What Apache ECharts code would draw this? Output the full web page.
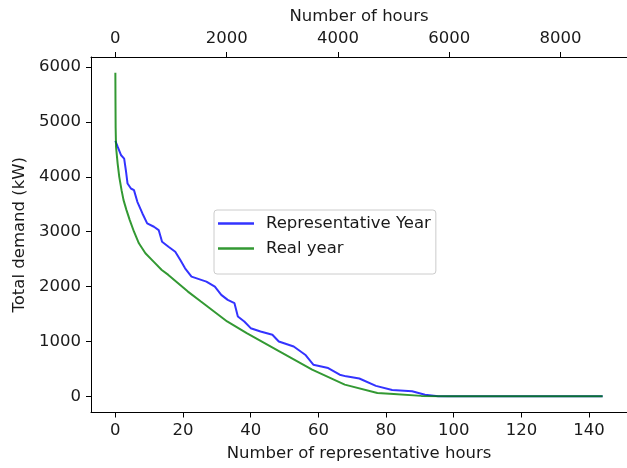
<!DOCTYPE html>
<html>
<head>
<meta charset="utf-8">
<script src="https://cdn.jsdelivr.net/npm/echarts@6/dist/echarts.min.js"></script>
<style>
  html, body { margin: 0; padding: 0; background: #fff; }
  #chart { width: 627px; height: 468px; }
</style>
</head>
<body>
<div id="chart"></div>
<script>
// representative year: [representative hour, demand kW]
var repHours = [0, 0.7, 1.7, 2.6, 3.1, 3.6, 4.6, 5.5, 6.5, 8, 9.4, 11.4, 12.8, 13.8, 15.7, 17.7, 19.2, 20.6,
  22.5, 26.9, 29.4, 31.3, 33.2, 35.2, 36.2, 38.1, 40, 42.9, 46.4, 48.3, 52.7, 56.1, 58.5, 62.9, 66.3,
  68.2, 72.1, 77, 81.8, 87.7, 91.5, 95.4, 144]
var repDemand = [4655, 4545, 4394, 4333, 4121, 3879, 3788, 3758, 3545, 3333, 3152, 3091, 3030, 2818, 2727, 2636, 2485, 2333,
  2182, 2091, 2000, 1849, 1758, 1697, 1455, 1364, 1242, 1182, 1121, 1000, 909, 758, 576, 515, 394,
  364, 325, 190, 115, 91, 30, 0, 0]

// real year: [hour, demand kW]
var realHours = [0, 2, 5, 12, 41, 70, 111, 147, 200, 259, 335, 423, 540, 687, 834, 952, 1304, 1538,
  2009, 2361, 2948, 3537, 4123, 4710, 5004, 5500, 6000, 8759]
var realDemand = [5900, 5400, 4900, 4545, 4242, 4000, 3758, 3576, 3394, 3212, 3000, 2789, 2607, 2455, 2303, 2213, 1909, 1727,
  1364, 1153, 818, 485, 213, 62, 44, 8, 0, 0]

var repTicks = [0, 20, 40, 60, 80, 100, 120, 140]
var hourTicks = [0, 2000, 4000, 6000, 8000]
var demandTicks = [0, 1000, 2000, 3000, 4000, 5000, 6000]

var font = 'DejaVu Sans'
var txt = '#1a1a1a'
var fs = 16.5

function zip(a, b) {
  return a.map(function (x, i) { return [x, b[i]] })
}

var chart = echarts.init(document.getElementById('chart'))

// shared look for the spines / ticks
function axisBase(ticks) {
  return {
    type: 'value',
    splitLine: { show: false },
    axisLine: { show: true, onZero: false, lineStyle: { color: '#000', width: 1 } },
    axisTick: { show: true, length: 5, customValues: ticks, lineStyle: { color: '#000' } },
    axisLabel: {
      customValues: ticks, color: txt, fontFamily: font, fontSize: fs, margin: 10,
      formatter: function (v) { return String(v) }
    },
    nameTextStyle: { color: txt, fontFamily: font, fontSize: fs },
    nameLocation: 'middle'
  }
}

var xBottom = axisBase(repTicks)
xBottom.position = 'bottom'
xBottom.min = -7.2
xBottom.max = 151.2
xBottom.name = 'Number of representative hours'
xBottom.nameGap = 33

var xTop = axisBase(hourTicks)
xTop.position = 'top'
xTop.min = -438
xTop.max = 9197
xTop.name = 'Number of hours'
xTop.nameGap = 30

var yLeft = axisBase(demandTicks)
yLeft.min = -295
yLeft.max = 6185
yLeft.name = 'Total demand (kW)'
yLeft.nameGap = 62

chart.setOption({
  animation: false,
  backgroundColor: '#fff',
  grid: { left: 91, top: 57, width: 545, height: 355.5 },
  xAxis: [xBottom, xTop],
  yAxis: [yLeft],
  legend: {
    orient: 'vertical',
    left: 214,
    top: 210,
    icon: 'rect',
    itemWidth: 36,
    itemHeight: 2.5,
    itemGap: 8,
    padding: [5, 5, 17, 4],
    borderColor: '#cccccc',
    borderWidth: 1,
    borderRadius: 3,
    textStyle: { color: txt, fontFamily: font, fontSize: fs, padding: [0, 0, 0, 7] },
    data: ['Representative Year', 'Real year']
  },
  series: [
    {
      name: 'Representative Year',
      type: 'line',
      xAxisIndex: 0,
      yAxisIndex: 0,
      showSymbol: false,
      symbol: 'none',
      color: 'rgba(0,0,255,0.8)',
      lineStyle: { width: 2 },
      data: zip(repHours, repDemand)
    },
    {
      name: 'Real year',
      type: 'line',
      xAxisIndex: 1,
      yAxisIndex: 0,
      showSymbol: false,
      symbol: 'none',
      color: 'rgba(0,128,0,0.8)',
      lineStyle: { width: 2 },
      data: zip(realHours, realDemand)
    }
  ]
})
</script>
</body>
</html>
